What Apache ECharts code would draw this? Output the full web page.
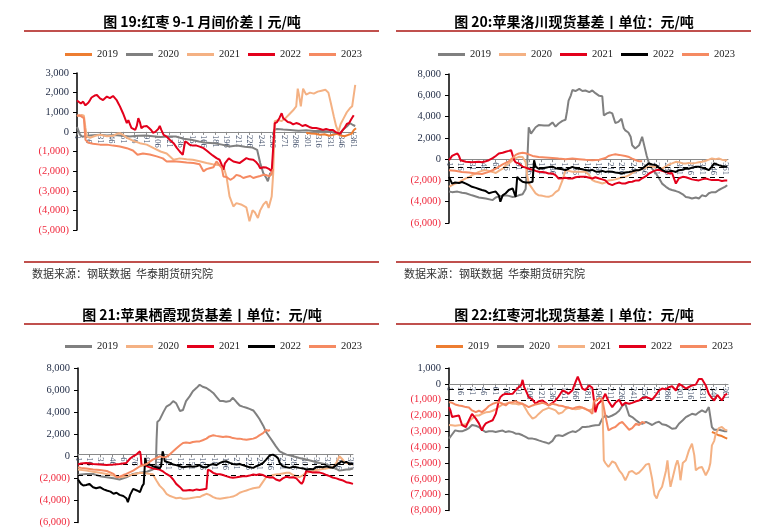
<!DOCTYPE html>
<html><head><meta charset="utf-8">
<script src="https://cdn.jsdelivr.net/npm/echarts@6/dist/echarts.min.js"></script>
<style>
html,body{margin:0;padding:0;background:#fff;width:772px;height:528px;overflow:hidden;}
.pn{position:absolute;}
</style></head><body>
<div id="p1" class="pn" style="left:0;top:0;width:386px;height:290px"></div>
<div id="p2" class="pn" style="left:386px;top:0;width:386px;height:290px"></div>
<div id="p3" class="pn" style="left:0;top:290px;width:386px;height:238px"></div>
<div id="p4" class="pn" style="left:386px;top:290px;width:386px;height:238px"></div>
<script>
// ---------- shared ----------
const days = Array.from({length: 365}, (_, i) => String(i + 1));
const seriesNames = ['2019', '2020', '2021', '2022', '2023'];
const titles = [
  '图 19:红枣 9-1 月间价差丨元/吨',
  '图 20:苹果洛川现货基差丨单位：元/吨',
  '图 21:苹果栖霞现货基差丨单位：元/吨',
  '图 22:红枣河北现货基差丨单位：元/吨'
];
const sourceText = '数据来源：钢联数据  华泰期货研究院';

// ---------- Panel 1: 红枣 9-1 月间价差 ----------
const p1_2019 = [[300,-50],[306,-80],[312,-100],[318,-150],[324,-120],[330,-200],[335,-150],[340,-100],[345,-180],[350,-220],[355,-150],[359,-100],[362,80],[365,180]];
const p1_2020 = [[1,250],[3,200],[5,-150],[8,-250],[14,-200],[22,-170],[31,-150],[40,-180],[50,-160],[60,-200],[70,-230],[80,-200],[90,-180],[100,-220],[110,-260],[120,-240],[130,-240],[140,-350],[150,-400],[160,-490],[170,-560],[180,-575],[190,-650],[200,-745],[210,-700],[220,-760],[230,-800],[236,-915],[240,-1590],[244,-2100],[248,-2350],[250,-2520],[253,-2100],[256,-2190],[258,100],[262,150],[270,120],[279,100],[290,60],[300,80],[310,50],[320,40],[330,20],[338,-40],[344,-70],[349,150],[353,270],[357,440],[361,350],[364,300]];
const p1_2021 = [[1,850],[4,800],[7,870],[10,820],[12,200],[14,-240],[18,-300],[25,-200],[31,-150],[40,-220],[48,-200],[53,-100],[57,-70],[61,-150],[66,-300],[74,-450],[83,-575],[92,-650],[101,-830],[110,-1000],[118,-1100],[127,-1420],[135,-1350],[144,-1400],[152,-1420],[161,-1500],[170,-1590],[178,-1650],[187,-1700],[192,-1750],[196,-2270],[200,-3290],[205,-3800],[209,-3630],[215,-3700],[222,-3850],[226,-4550],[230,-4000],[233,-4100],[237,-4390],[240,-4000],[244,-3710],[248,-3540],[251,-3880],[255,-3290],[257,-2100],[259,550],[263,600],[268,550],[273,700],[278,900],[283,1100],[287,1300],[289,2200],[291,1800],[293,1300],[296,2200],[300,1900],[305,2000],[310,1950],[315,2050],[320,2100],[325,2150],[329,2000],[332,1500],[336,800],[339,300],[342,0],[345,400],[349,700],[353,1000],[357,1200],[360,1300],[362,1400],[364,2400]];
const p1_2022 = [[1,1600],[3,1620],[6,1450],[9,1540],[12,1350],[14,1290],[16,1500],[18,1620],[20,1750],[22,1800],[24,1850],[27,1880],[29,1800],[31,1710],[33,1680],[35,1620],[37,1700],[40,1800],[42,1780],[44,1720],[46,1800],[48,1830],[50,1750],[53,1600],[55,1450],[57,1300],[59,1250],[61,950],[63,900],[66,450],[68,600],[70,400],[72,200],[74,250],[77,100],[79,300],[81,700],[83,500],[85,190],[88,280],[90,380],[92,300],[95,200],[98,80],[100,-50],[103,0],[105,-50],[107,150],[109,300],[111,100],[114,-150],[118,-240],[122,-400],[127,-575],[131,-800],[135,-1000],[139,-1170],[142,-490],[145,-550],[148,-660],[152,-700],[157,-700],[161,-750],[166,-830],[170,-950],[174,-1080],[178,-1200],[183,-1340],[187,-1420],[190,-1700],[192,-1930],[194,-1600],[196,-1510],[199,-1350],[201,-1400],[205,-1510],[209,-1550],[213,-1590],[218,-1450],[222,-1340],[226,-1400],[231,-1420],[235,-1550],[238,-1700],[240,-1850],[244,-1800],[248,-1820],[252,-1900],[255,-2010],[257,-1950],[259,440],[262,500],[265,700],[268,950],[270,700],[273,600],[276,500],[279,480],[283,380],[287,450],[291,400],[295,300],[299,350],[304,250],[308,200],[313,200],[318,150],[322,100],[326,150],[330,100],[335,100],[338,0],[341,-50],[344,-100],[347,50],[350,200],[353,400],[356,450],[359,650],[362,850]];
const p1_2023 = [[1,800],[4,850],[7,780],[10,700],[12,-400],[16,-550],[22,-600],[31,-650],[40,-650],[48,-700],[57,-750],[66,-830],[74,-950],[80,-1170],[87,-1100],[96,-1150],[105,-1250],[113,-1350],[118,-1510],[126,-1500],[135,-1520],[144,-1560],[153,-1590],[161,-1650],[166,-2010],[170,-1900],[174,-1850],[179,-1800],[183,-1510],[187,-1700],[190,-1850],[192,-2270],[196,-2300],[201,-2440],[205,-2350],[209,-2190],[214,-2250],[218,-2350],[222,-2300],[227,-2250],[231,-2350],[235,-2300],[240,-2250],[244,-2190],[248,-2200],[252,-2270],[255,-2100],[257,-1900]];

// ---------- Panel 2: 苹果洛川现货基差 ----------
const p2_2019 = [[1,-3050],[5,-3100],[12,-3050],[18,-3150],[23,-3200],[31,-3400],[40,-3600],[49,-3700],[58,-3850],[62,-3600],[66,-3500],[75,-3400],[79,-3450],[84,-3550],[88,-3500],[92,-3400],[97,-3300],[101,-2800],[103,-500],[105,3000],[108,2400],[110,2500],[114,3000],[118,3200],[125,3150],[131,3150],[136,3450],[140,3050],[144,3350],[149,3600],[153,3700],[155,4500],[157,5500],[160,6000],[162,6500],[166,6400],[171,6600],[175,6400],[179,6450],[184,6300],[188,6450],[192,6200],[197,5950],[201,5900],[203,4100],[207,4300],[211,4400],[214,4300],[218,3400],[222,3500],[226,3800],[229,2900],[231,2700],[235,2500],[238,2100],[240,1300],[244,1000],[249,1300],[253,2100],[256,1200],[259,300],[262,-400],[266,-900],[271,-1350],[275,-1800],[279,-2300],[284,-2600],[288,-2800],[292,-2900],[297,-3000],[301,-3100],[306,-3300],[310,-3550],[314,-3600],[318,-3700],[323,-3600],[327,-3700],[331,-3400],[336,-3500],[340,-3200],[344,-3100],[349,-3100],[353,-2900],[357,-2750],[361,-2600],[364,-2450]];
const p2_2020 = [[1,-2600],[5,-2440],[9,-2300],[14,-2200],[18,-2000],[23,-1800],[27,-1700],[31,-1500],[36,-1350],[40,-1200],[44,-1100],[49,-1033],[53,-1100],[58,-1200],[62,-1300],[66,-1100],[71,-900],[75,-600],[79,-400],[84,-100],[88,100],[92,220],[97,200],[101,-300],[103,-1500],[105,-2285],[110,-2800],[114,-3220],[118,-3400],[123,-3450],[127,-3500],[131,-3540],[136,-3400],[140,-3100],[144,-2910],[149,-2000],[153,-1033],[157,-1100],[162,-1190],[171,-1190],[179,-1190],[184,-1500],[188,-1970],[192,-2100],[197,-2200],[201,-2285],[205,-2200],[209,-2000],[214,-1970],[218,-1900],[223,-1800],[227,-1700],[231,-1660],[236,-1500],[240,-1300],[245,-1100],[249,-1033],[253,-900],[258,-800],[262,-720],[266,-700],[271,-750],[275,-800],[279,-876],[284,-700],[288,-500],[292,-400],[297,-250],[301,-300],[306,-400],[310,-400],[314,-350],[318,-400],[323,-350],[327,-300],[331,-250],[336,-150],[340,-50],[344,60],[349,0],[353,60],[357,-50],[361,-100],[364,-94]];
const p2_2021 = [[1,-94],[3,100],[5,300],[9,450],[12,530],[14,300],[16,-100],[18,-250],[23,-250],[31,-300],[40,-250],[44,-300],[49,-200],[53,-100],[58,100],[62,300],[66,530],[71,600],[75,700],[79,780],[82,850],[84,800],[86,-100],[88,-300],[92,-400],[97,-700],[101,-800],[105,-900],[110,-1000],[114,-1100],[118,-1190],[123,-1200],[127,-1250],[131,-1346],[136,-1350],[140,-1500],[144,-1815],[149,-1800],[153,-1750],[157,-1815],[162,-1815],[166,-1700],[171,-1650],[175,-1660],[179,-1660],[184,-1750],[188,-1815],[192,-1700],[197,-1815],[201,-1900],[205,-2000],[209,-2300],[214,-2440],[218,-2300],[223,-2200],[227,-2300],[231,-2285],[236,-2150],[240,-2130],[245,-2000],[249,-2000],[253,-1800],[258,-1600],[262,-1350],[266,-1200],[271,-1033],[275,-1000],[279,-1100],[284,-1200],[288,-1346],[292,-1300],[297,-2300],[301,-1800],[306,-1660],[310,-1700],[314,-1800],[318,-1900],[323,-1970],[327,-2000],[331,-1900],[336,-1815],[340,-1900],[344,-1970],[349,-1950],[353,-1970],[357,-2050],[361,-2000],[364,-2000]];
const p2_2022 = [[1,-1660],[5,-2300],[9,-2200],[14,-2250],[18,-2150],[23,-2300],[27,-2450],[31,-2600],[36,-2700],[40,-2800],[44,-2900],[49,-3000],[53,-3200],[58,-3100],[62,-3050],[66,-3400],[68,-4000],[71,-3400],[75,-3200],[79,-2900],[84,-2750],[86,-2900],[88,-3550],[90,-1660],[93,-1900],[97,-2130],[101,-2200],[103,-2290],[106,-2200],[110,-2130],[111,-2000],[112,-100],[114,-700],[118,-900],[123,-850],[127,-800],[131,-750],[136,-700],[140,-850],[144,-900],[149,-950],[153,-1030],[157,-900],[162,-720],[166,-850],[171,-900],[175,-950],[179,-1030],[184,-1100],[188,-1000],[192,-1150],[197,-1190],[201,-1100],[205,-1200],[209,-1150],[214,-1190],[218,-1250],[223,-1300],[227,-1346],[231,-1250],[236,-1200],[240,-1150],[245,-1050],[249,-1033],[253,-900],[258,-600],[262,-400],[266,-500],[271,-563],[275,-800],[279,-1000],[284,-1190],[288,-1150],[292,-1100],[297,-1200],[301,-1033],[306,-1000],[310,-876],[314,-900],[318,-800],[323,-720],[327,-720],[331,-800],[336,-900],[340,-1033],[344,-700],[347,-400],[349,-500],[353,-563],[357,-650],[361,-720],[364,-700]];
const p2_2023 = [[1,-1033],[9,-1100],[18,-1200],[27,-1250],[36,-1350],[44,-1400],[53,-1200],[62,-900],[71,-500],[79,-200],[84,100],[88,400],[92,530],[97,600],[101,550],[105,450],[110,300],[118,200],[127,150],[136,100],[144,50],[153,0],[162,50],[171,0],[179,-50],[188,-100],[197,-50],[205,100],[209,300],[214,400],[218,450],[223,400],[231,300],[236,200],[240,50],[245,-100],[249,-200],[253,-200]];

// ---------- Panel 3: 苹果栖霞现货基差 ----------
const p3_2019 = [[1,-1700],[5,-1650],[12,-1600],[21,-1600],[30,-1800],[39,-1900],[48,-2000],[56,-2100],[65,-1900],[74,-1600],[83,-1500],[92,-1400],[100,-1200],[104,-1000],[105,1500],[106,3100],[109,3300],[114,4000],[118,4500],[123,4700],[127,5000],[131,4800],[136,4100],[140,4200],[144,5000],[149,5450],[153,5900],[158,6200],[162,6480],[166,6300],[171,6190],[175,6000],[180,5740],[184,5400],[189,5000],[193,5000],[197,4950],[202,5000],[206,5300],[211,4900],[215,4600],[219,4500],[224,4400],[228,4300],[233,4150],[237,3800],[241,3400],[246,2800],[250,2200],[255,1700],[259,1300],[263,900],[268,450],[272,300],[277,150],[281,100],[286,0],[294,-150],[303,-300],[312,-450],[321,-600],[330,-750],[338,-1000],[343,-1150],[347,-1300],[352,-1250],[356,-1200],[360,-1200],[365,-1100]];
const p3_2020 = [[1,-1200],[12,-1300],[21,-1400],[30,-1500],[39,-1600],[48,-1750],[56,-1900],[65,-1800],[74,-1650],[83,-1500],[92,-1550],[100,-1630],[105,-2220],[109,-2660],[114,-3000],[118,-3400],[123,-3600],[127,-3700],[131,-3800],[136,-3750],[140,-3850],[144,-3850],[149,-3800],[153,-3750],[158,-3700],[162,-3700],[166,-3550],[171,-3400],[175,-3500],[180,-3700],[184,-3800],[189,-3850],[193,-3800],[197,-3750],[202,-3700],[206,-3650],[211,-3500],[215,-3300],[219,-3200],[224,-3100],[228,-3000],[233,-2900],[237,-2850],[241,-2800],[246,-2300],[250,-1900],[255,-1800],[259,-1700],[263,-1650],[268,-1600],[272,-1550],[277,-1500],[281,-1500],[286,-1700],[290,-1800],[294,-1900],[299,-1700],[303,-1500],[308,-1400],[312,-1330],[316,-1250],[321,-1200],[325,-1150],[330,-1100],[334,-1050],[338,-1000],[343,-600],[347,0],[350,-200],[353,-450],[356,-600],[360,-650],[365,-740]];
const p3_2021 = [[1,-750],[5,-650],[12,-600],[21,-700],[30,-750],[39,-800],[48,-750],[56,-700],[65,-600],[70,-200],[74,0],[79,200],[83,450],[84,100],[85,-750],[90,-850],[96,-1000],[100,-1100],[105,-1150],[109,-1200],[114,-1400],[118,-1600],[123,-1800],[127,-2100],[131,-2500],[136,-2800],[140,-3100],[144,-3100],[149,-3050],[153,-3100],[158,-3000],[162,-3050],[166,-3000],[171,-2950],[173,-1200],[176,-1300],[180,-1500],[184,-1600],[189,-1630],[193,-1700],[197,-1800],[202,-1900],[206,-1950],[211,-1900],[215,-1850],[219,-1800],[224,-1800],[228,-1750],[233,-1650],[237,-1700],[241,-1630],[246,-1700],[250,-1850],[255,-1920],[259,-1900],[263,-2100],[268,-2220],[272,-2000],[277,-1850],[281,-1920],[286,-1900],[290,-2000],[294,-2300],[297,-2500],[299,-2300],[303,-1330],[308,-1400],[312,-1480],[316,-1450],[321,-1480],[325,-1550],[330,-1700],[334,-1800],[338,-1920],[343,-2000],[347,-2100],[352,-2200],[356,-2350],[360,-2400],[365,-2500]];
const p3_2022 = [[1,-2100],[3,-2100],[5,-2500],[8,-2650],[12,-2600],[16,-2500],[21,-2800],[25,-2900],[30,-2800],[35,-3000],[39,-3100],[44,-3200],[48,-3400],[52,-3300],[56,-3500],[61,-3600],[65,-3800],[67,-4150],[70,-3500],[74,-2950],[79,-3100],[83,-3250],[86,-2700],[88,-2500],[90,-150],[92,-800],[96,-750],[100,-900],[105,-1000],[109,-1100],[111,-900],[113,450],[114,200],[116,-450],[118,-500],[123,-600],[127,-750],[131,-800],[136,-900],[140,-1000],[144,-950],[149,-900],[153,-950],[158,-900],[162,-800],[166,-1000],[171,-1000],[175,-800],[180,-700],[184,-800],[189,-600],[193,-500],[197,-450],[202,-600],[206,-700],[211,-750],[215,-700],[219,-800],[224,-900],[228,-1000],[233,-1050],[237,-900],[241,-800],[246,-600],[250,-300],[255,100],[259,150],[263,0],[266,-200],[268,-600],[272,-900],[277,-1000],[281,-1050],[286,-950],[290,-1000],[294,-1050],[299,-1100],[303,-1200],[308,-1150],[312,-1180],[316,-1000],[321,-950],[325,-1000],[330,-900],[334,-1000],[338,-1050],[343,-800],[347,-600],[350,-450],[353,-600],[356,-500],[360,-650],[365,-700]];
const p3_2023 = [[1,-1000],[5,-1050],[12,-1100],[21,-1200],[30,-1250],[39,-1330],[48,-1600],[52,-1900],[56,-1850],[61,-1700],[65,-1600],[74,-1300],[83,-900],[92,-700],[96,-500],[100,-300],[105,-150],[109,0],[114,-100],[118,-50],[123,200],[127,450],[131,700],[136,1000],[140,1200],[144,1250],[149,1200],[153,1300],[158,1350],[162,1350],[166,1450],[171,1600],[175,1800],[180,1900],[184,1850],[189,1800],[193,1750],[197,1800],[202,1750],[206,1650],[211,1600],[215,1600],[219,1550],[224,1500],[228,1550],[233,1600],[237,1700],[241,1900],[246,2100],[248,2000],[250,2400],[253,2300],[255,2400]];

// ---------- Panel 4: 红枣河北现货基差 ----------
const p4_2019 = [[344,-3045],[347,-3100],[349,-3150],[353,-3250],[357,-3300],[361,-3400],[364,-3460]];
const p4_2020 = [[1,-3460],[5,-3200],[9,-2940],[14,-3000],[18,-3000],[23,-2900],[27,-2800],[31,-2600],[36,-2650],[40,-2730],[44,-2900],[49,-3045],[53,-3000],[58,-3000],[62,-3045],[66,-3000],[71,-2950],[75,-3045],[79,-3000],[84,-3050],[88,-3150],[92,-3150],[97,-3250],[101,-3350],[105,-3460],[110,-3460],[114,-3500],[118,-3570],[123,-3650],[127,-3700],[131,-3780],[136,-3600],[140,-3300],[144,-3250],[149,-3300],[153,-3200],[157,-3100],[162,-3000],[166,-3045],[171,-2900],[175,-2730],[179,-2730],[184,-2700],[188,-2650],[192,-2620],[197,-2600],[201,-2200],[205,-2000],[209,-2100],[214,-2000],[218,-1900],[223,-1700],[227,-1400],[231,-1260],[234,-1700],[236,-2000],[240,-2100],[245,-2300],[249,-2450],[253,-2520],[258,-2400],[262,-2500],[266,-2600],[271,-2450],[275,-2400],[279,-2550],[284,-2600],[288,-2700],[292,-2840],[297,-2800],[301,-2520],[306,-2300],[310,-2100],[314,-2000],[318,-1890],[323,-1950],[327,-1800],[331,-1680],[336,-1800],[340,-1470],[344,-2730],[347,-2900],[349,-2940],[353,-2900],[357,-2950],[361,-3000],[364,-3000]];
const p4_2021 = [[1,-2600],[5,-2620],[9,-2650],[14,-2620],[18,-2600],[23,-2550],[27,-2400],[31,-2200],[36,-2000],[40,-2000],[44,-1900],[49,-1800],[53,-1785],[58,-1700],[62,-1600],[66,-1450],[71,-1300],[75,-1260],[79,-1200],[84,-1260],[88,-1260],[92,-1300],[97,-1260],[101,-1575],[105,-1900],[110,-2200],[114,-2100],[118,-1900],[123,-1680],[127,-1600],[131,-1520],[136,-1600],[140,-1680],[144,-1890],[149,-1800],[153,-1600],[157,-1500],[162,-1575],[166,-1600],[171,-1575],[175,-1500],[179,-1600],[184,-1700],[188,-1600],[192,-1400],[197,-1200],[201,-1000],[203,-4830],[205,-5000],[209,-5250],[214,-4900],[218,-5000],[223,-5460],[227,-5700],[231,-6090],[234,-5800],[236,-5565],[240,-5500],[245,-5700],[249,-5600],[253,-5400],[258,-5100],[262,-5040],[266,-6000],[269,-7000],[272,-7245],[275,-6800],[279,-6500],[284,-5500],[286,-4830],[288,-5800],[290,-6500],[292,-6400],[297,-5100],[299,-4830],[301,-5200],[303,-6090],[306,-5000],[310,-4830],[314,-4200],[318,-3780],[321,-4500],[323,-5460],[327,-5300],[331,-5250],[336,-5775],[340,-5400],[342,-5000],[344,-3885],[347,-3600],[349,-3150],[353,-2800],[357,-2730],[361,-2900],[364,-2940]];
const p4_2022 = [[1,-1470],[3,-1700],[5,-2100],[9,-2050],[14,-2000],[18,-2600],[20,-2500],[23,-2730],[27,-2300],[31,-1900],[36,-2200],[40,-2500],[44,-2950],[46,-2700],[49,-2500],[53,-2400],[58,-2300],[62,-1900],[64,-1500],[66,-1050],[68,-840],[71,-700],[75,-630],[79,-650],[84,-630],[88,-400],[92,-210],[95,-100],[97,250],[99,-200],[101,-400],[103,-300],[105,-840],[110,-1000],[114,-1260],[118,-1100],[123,-1050],[127,-1200],[131,-1370],[136,-1200],[140,-1050],[144,-800],[149,-420],[153,-500],[157,-630],[162,-400],[166,100],[169,450],[171,210],[175,-300],[179,-400],[184,-100],[188,-250],[190,-1000],[192,-1800],[195,-1300],[197,-1370],[201,-1000],[205,-630],[209,-1100],[214,-1470],[218,-1200],[223,-1000],[227,-1365],[231,-1200],[236,-1260],[240,-1200],[245,-1100],[249,-1050],[253,-900],[258,-840],[262,-900],[266,-1000],[271,-700],[275,-420],[279,-300],[284,-350],[288,-210],[292,-150],[297,-420],[301,0],[306,-150],[310,-300],[314,-200],[318,-100],[323,-50],[327,300],[329,400],[331,300],[336,-100],[340,-630],[344,-900],[347,-1050],[349,-1100],[351,-700],[353,-630],[357,-1050],[361,-700],[364,-630]];
const p4_2023 = [[1,-1155],[5,-1200],[9,-1300],[14,-1365],[18,-1400],[23,-1470],[27,-1500],[31,-1680],[36,-1785],[40,-1700],[44,-1785],[49,-1600],[53,-1400],[58,-1260],[62,-1200],[66,-1155],[71,-1260],[75,-1365],[79,-1200],[84,-1155],[88,-1100],[92,-1200],[97,-1260],[101,-1365],[105,-1470],[110,-1365],[114,-1300],[118,-1260],[123,-1200],[127,-1260],[131,-1365],[136,-1260],[140,-1300],[144,-1365],[149,-1400],[153,-1470],[157,-1500],[162,-1575],[166,-1500],[171,-1450],[175,-1500],[179,-1575],[184,-1700],[188,-1890],[190,-1100],[193,-1050],[197,-900],[201,-1000],[205,-2000],[209,-2940],[214,-2800],[218,-2730],[223,-2500],[227,-2410],[231,-2625],[236,-2900],[240,-2800],[245,-2520],[249,-2600],[253,-2400],[257,-2500]];

// y-axis ranges / ticks
const yRanges = [
  {min: -5000, max: 3000, interval: 1000},
  {min: -6000, max: 8000, interval: 2000},
  {min: -6000, max: 8000, interval: 2000},
  {min: -8000, max: 1000, interval: 1000}
];
// dashed label-box guide levels
const guideLevels = [[], [-750, -1700], [-740, -1690], [-315, -1050]];

// ---------- colours ----------
const C_ORANGE = '#ED7D31', C_GRAY = '#808080', C_LIGHT = '#F4B183', C_RED = '#E3001B', C_SALMON = '#F58A62', C_BLACK = '#000000';

const SERIF = '"Liberation Serif","Times New Roman",serif';
const CJK = '"Noto Sans CJK SC","Noto Sans",sans-serif';

function fmt(v) {
  const s = String(Math.abs(v)).replace(/\B(?=(\d{3})+(?!\d))/g, ',');
  return v < 0 ? '{n|(' + s + ')}' : '{p|' + s + '}';
}

function build(elId, cfg) {
  const chart = echarts.init(document.getElementById(elId), null, {renderer: 'canvas'});
  // place the category axis on the zero line of the value axis
  const zeroOffset = -cfg.grid.height * (0 - cfg.y.min) / (cfg.y.max - cfg.y.min);
  const series = cfg.series.map((s, i) => {
    const o = {
      name: s.name, type: 'line', showSymbol: false, symbol: 'none',
      data: s.data.map(d => [d[0] - 1, d[1]]),
      lineStyle: {color: s.color, width: 2},
      itemStyle: {color: s.color},
      emphasis: {disabled: true}, z: 3 + i
    };
    if (i === 0 && cfg.guides.length) {
      o.markLine = {
        silent: true, symbol: 'none', label: {show: false},
        lineStyle: {color: '#000', type: [5, 4], width: 1},
        data: cfg.guides.map(g => ({yAxis: g}))
      };
    }
    return o;
  });
  const graphic = [
    {type: 'text', x: cfg.titleX, y: cfg.titleY, style: {text: cfg.title, font: 'bold 14px ' + CJK, fill: '#000', textAlign: 'center', textVerticalAlign: 'middle'}},
    {type: 'line', shape: {x1: cfg.lx1, y1: cfg.lineY, x2: cfg.lx2, y2: cfg.lineY}, style: {stroke: '#C0504D', lineWidth: 2}}
  ];
  if (cfg.source) {
    graphic.push({type: 'line', shape: {x1: cfg.lx1, y1: 262, x2: cfg.lx2, y2: 262}, style: {stroke: '#C0504D', lineWidth: 2}});
    graphic.push({type: 'text', x: cfg.srcX, y: 274, style: {text: sourceText, font: '11px ' + CJK, fill: '#333', textVerticalAlign: 'middle'}});
  }
  chart.setOption({
    animation: false,
    backgroundColor: '#fff',
    graphic: graphic,
    legend: {
      left: cfg.legendLeft, top: cfg.legendTop, icon: 'rect', itemWidth: 27, itemHeight: 3, itemGap: 8,
      selectedMode: false, data: seriesNames,
      textStyle: {fontFamily: SERIF, fontSize: 10.5, color: '#222'}
    },
    grid: cfg.grid,
    xAxis: {
      type: 'category', data: days, boundaryGap: false, position: 'bottom', offset: zeroOffset,
      axisLine: {onZero: false, lineStyle: {color: '#8A8A8A', width: 1}},
      axisTick: {show: true, interval: 14, length: 3, lineStyle: {color: '#8A8A8A'}},
      axisLabel: {interval: 14, rotate: -90, margin: 3, fontFamily: SERIF, fontSize: 8.5, color: '#3F4D68'},
      splitLine: {show: false}
    },
    yAxis: {
      type: 'value', min: cfg.y.min, max: cfg.y.max, interval: cfg.y.interval,
      axisLine: {show: true, onZero: false, lineStyle: {color: '#000', width: 1.5}},
      axisTick: {show: true, length: 4, lineStyle: {color: '#000'}},
      splitLine: {show: false},
      axisLabel: {
        margin: 8, formatter: fmt,
        rich: {
          p: {fontFamily: SERIF, fontSize: 10.5, color: '#1F2A44'},
          n: {fontFamily: SERIF, fontSize: 10.5, color: '#F0283C'}
        }
      }
    },
    series: series
  });
}

build('p1', {
  title: titles[0], titleX: 202, titleY: 22, lx1: 24, lx2: 379, lineY: 31,
  legendLeft: 60, legendTop: 44, grid: {left: 77, top: 73, width: 279, height: 157},
  y: yRanges[0], guides: guideLevels[0], source: true, srcX: 32,
  series: [
    {name: '2019', color: C_ORANGE, data: p1_2019},
    {name: '2020', color: C_GRAY, data: p1_2020},
    {name: '2021', color: C_LIGHT, data: p1_2021},
    {name: '2022', color: C_RED, data: p1_2022},
    {name: '2023', color: C_SALMON, data: p1_2023}
  ]
});
build('p2', {
  title: titles[1], titleX: 188, titleY: 22, lx1: 10, lx2: 365, lineY: 31,
  legendLeft: 47, legendTop: 44, grid: {left: 63, top: 74, width: 279, height: 149},
  y: yRanges[1], guides: guideLevels[1], source: true, srcX: 18,
  series: [
    {name: '2019', color: C_GRAY, data: p2_2019},
    {name: '2020', color: C_LIGHT, data: p2_2020},
    {name: '2021', color: C_RED, data: p2_2021},
    {name: '2022', color: C_BLACK, data: p2_2022},
    {name: '2023', color: C_SALMON, data: p2_2023}
  ]
});
build('p3', {
  title: titles[2], titleX: 202, titleY: 25, lx1: 24, lx2: 379, lineY: 34,
  legendLeft: 60, legendTop: 46, grid: {left: 78, top: 78, width: 275, height: 159},
  y: yRanges[2], guides: guideLevels[2], source: false,
  series: [
    {name: '2019', color: C_GRAY, data: p3_2019},
    {name: '2020', color: C_LIGHT, data: p3_2020},
    {name: '2021', color: C_RED, data: p3_2021},
    {name: '2022', color: C_BLACK, data: p3_2022},
    {name: '2023', color: C_SALMON, data: p3_2023}
  ]
});
build('p4', {
  title: titles[3], titleX: 188, titleY: 25, lx1: 10, lx2: 365, lineY: 34,
  legendLeft: 45, legendTop: 46, grid: {left: 63, top: 78, width: 279, height: 142.5},
  y: yRanges[3], guides: guideLevels[3], source: false,
  series: [
    {name: '2019', color: C_ORANGE, data: p4_2019},
    {name: '2020', color: C_GRAY, data: p4_2020},
    {name: '2021', color: C_LIGHT, data: p4_2021},
    {name: '2022', color: C_RED, data: p4_2022},
    {name: '2023', color: C_SALMON, data: p4_2023}
  ]
});
</script>
</body></html>
